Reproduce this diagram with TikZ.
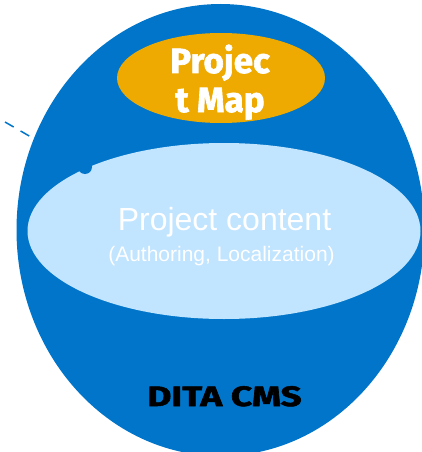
\documentclass[tikz,border=0pt]{standalone}
\usepackage{fontspec}
\setmainfont{Liberation Sans}
\newfontfamily\heavy{Fira Sans}[BoldFeatures={FakeBold=1.8}]
\usetikzlibrary{shapes.geometric}
\definecolor{cmsblue}{RGB}{0,117,201}
\definecolor{mapgold}{RGB}{238,170,0}
\definecolor{contentblue}{RGB}{193,228,255}
\tikzset{
  blob/.style={ellipse, inner sep=0pt, draw=none},
  heavytext/.style={inner sep=0pt, anchor=base},
}
\begin{document}
\begin{tikzpicture}[x=1pt,y=-1pt]
\useasboundingbox (0,0) rectangle (421,452);
\node[blob, fill=cmsblue, minimum width=408pt, minimum height=452pt] (cms) at (220.5,230) {};
\node[blob, fill=mapgold, minimum width=208pt, minimum height=90pt] (map) at (221,78) {};
\node[blob, fill=contentblue, minimum width=393pt, minimum height=176pt] (content) at (224,231) {};
\node[circle, fill=cmsblue, minimum size=14pt, inner sep=0pt] (dot) at (85,167) {};
\coordinate (d1) at (5,122);
\coordinate (d2) at (31,137);
\draw[cmsblue, line width=1.5pt, dash pattern=on 10pt off 8pt] (d1) -- (d2);
\node[heavytext, text=white] (t1) at (220,73) {\heavy\bfseries\fontsize{35}{35}\selectfont Projec};
\node[heavytext, text=white] (t2) at (220,112) {\heavy\bfseries\fontsize{35}{35}\selectfont t Map};
\node[heavytext, text=black] (t3) at (224.5,406) {\scalebox{1.32}[1]{\heavy\bfseries\fontsize{28}{28}\selectfont DITA CMS}};
\node[heavytext, text=white] (t4) at (224.5,230) {\fontsize{32}{32}\selectfont Project content};
\node[heavytext, text=white] (t5) at (221.5,261) {\fontsize{21}{21}\selectfont (Authoring, Localization)};
\end{tikzpicture}
\end{document}
